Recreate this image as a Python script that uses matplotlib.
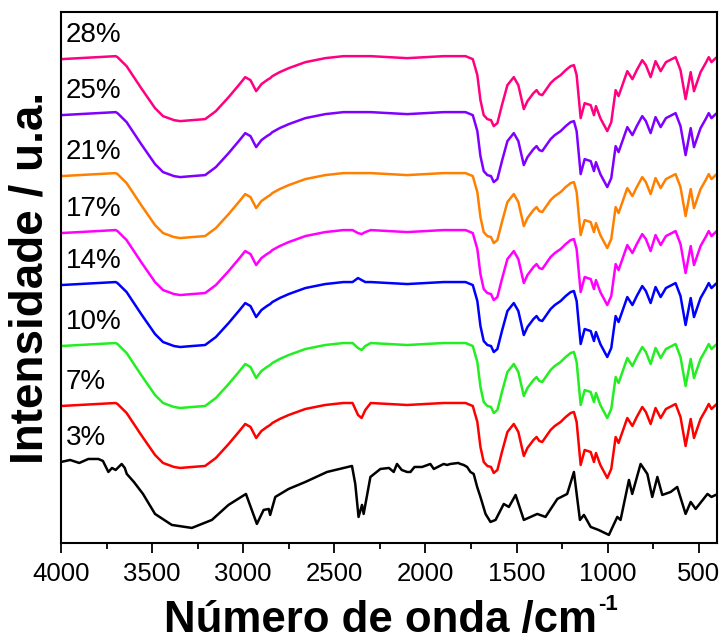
import numpy as np
import matplotlib.pyplot as plt

# wavenumber grid (cm-1) shared by the doped samples
wn = np.array([4000, 3900, 3800, 3700, 3690, 3640, 3560, 3484, 3440, 3380, 3346, 3280,
               3209, 3150, 3080, 3020, 2989, 2960, 2929, 2900, 2870, 2852, 2840, 2800,
               2750, 2659, 2550, 2450, 2400, 2370, 2350, 2330, 2300, 2200, 2100, 2000,
               1900, 1780, 1740, 1715, 1698, 1680, 1660, 1640, 1625, 1605, 1580, 1550,
               1515, 1490, 1460, 1440, 1407, 1390, 1375, 1359, 1313, 1290, 1258, 1230,
               1203, 1185, 1170, 1148, 1126, 1110, 1093, 1075, 1064, 1040, 1002, 980,
               956, 940, 892, 864, 840, 810, 790, 764, 737, 709, 680, 627, 600, 572,
               544, 526, 490, 462, 445, 430, 407])
# relative intensity (plateau at 4000 = 0)
shape_rel = np.array([0.0, 0.1, 0.2, 0.3, 0.2, -0.7, -2.9, -4.9, -5.7, -6.1, -6.2, -6.1,
                      -6.0, -5.2, -3.8, -2.5, -1.8, -2.1, -3.2, -2.5, -2.1, -1.9, -1.7, -1.3,
                      -0.9, -0.3, 0.1, 0.3, 0.3, 0.3, 0.3, 0.3, 0.3, 0.2, 0.1, 0.2,
                      0.3, 0.3, 0.0, -1.6, -4.1, -5.6, -6.0, -6.1, -6.7, -6.4, -4.6, -2.6,
                      -1.8, -2.6, -5.0, -4.2, -3.4, -3.1, -3.5, -3.6, -2.4, -2.0, -1.6, -1.1,
                      -0.7, -0.6, -1.6, -5.9, -4.4, -4.5, -4.6, -5.6, -4.7, -5.9, -7.2, -6.3,
                      -3.1, -3.7, -1.2, -2.0, -1.1, -0.1, -0.6, -1.8, -0.2, -1.2, -0.3, 0.2, -1.1, -4.0,
                      -1.3, -3.2, -1.3, -0.4, 0.2, -0.3, 0.1])

# 3% sample (black), read separately
wn_3 = np.array([4000, 3950, 3900, 3850, 3795, 3770, 3740, 3720, 3700, 3667, 3650, 3639,
                 3600, 3550, 3484, 3392, 3282, 3172, 3081, 2985, 2925, 2888, 2860, 2852,
                 2824, 2751, 2659, 2540, 2403, 2385, 2367, 2348, 2339, 2302, 2247, 2200,
                 2174, 2156, 2130, 2101, 2082, 2060, 2018, 1973, 1954, 1900, 1881, 1863,
                 1820, 1808, 1790, 1771, 1753, 1735, 1716, 1698, 1670, 1643, 1615, 1570,
                 1542, 1505, 1460, 1386, 1341, 1276, 1222, 1185, 1152, 1130, 1093, 1050,
                 993, 947, 929, 883, 865, 819, 782, 755, 727, 700, 654, 618, 572, 544,
                 517, 452, 430, 407])
rel_3 = np.array([0.0, 0.2, -0.1, 0.3, 0.3, 0.1, -1.0, -0.6, -0.8, -0.2, -0.6, -1.2,
                  -2.0, -3.2, -5.2, -6.3, -6.6, -5.8, -4.3, -3.2, -6.2, -4.8, -4.7, -5.3,
                  -3.5, -2.7, -2.0, -1.0, -0.4, -2.2, -5.5, -4.3, -5.2, -1.5, -0.7, -0.6,
                  -1.0, -0.2, -0.8, -1.0, -1.0, -0.5, -0.5, -0.2, -0.7, -0.2, -0.3, -0.2,
                  -0.1, -0.2, -0.3, -0.5, -1.0, -1.2, -2.5, -3.5, -5.2, -6.0, -5.8, -4.2,
                  -4.5, -3.3, -5.8, -5.2, -5.5, -3.7, -3.2, -1.0, -5.8, -5.3, -6.5, -6.8,
                  -7.3, -5.5, -5.8, -1.8, -3.2, -0.2, -1.2, -3.5, -1.5, -3.3, -3.0, -2.5, -5.2, -4.0,
                  -4.7, -3.2, -3.5, -3.3])

labels = ["28%", "25%", "21%", "17%", "14%", "10%", "7%", "3%"]
offsets = [48.4, 42.8, 36.7, 31.0, 25.8, 19.7, 13.7, 8.1]
colors = ["#FF0080", "#8000FF", "#FF8000", "#FF00FF", "#0000FF", "#22EE22", "#FF0000", "#000000"]

# small features around 2350 cm-1 that differ between samples
tweaks = {"17%": {2370: 0.0, 2350: -0.1, 2330: 0.1},
          "14%": {2370: 0.7, 2350: 0.5},
          "10%": {2370: -0.2, 2350: -0.4, 2330: 0.0},
          "7%": {2370: -0.9, 2350: -1.2, 2330: -0.4}}

plt.rcParams['font.family'] = ['Liberation Sans', 'DejaVu Sans']

fig = plt.figure(figsize=(7.22, 6.41), dpi=100)
ax = fig.add_axes([0.0845, 0.153, 0.9085, 0.828])

for lab, off, col in zip(labels, offsets, colors):
    if lab == "3%":
        x, y = wn_3, rel_3 + off
    else:
        vals = shape_rel.copy()
        for w, v in tweaks.get(lab, {}).items():
            vals[wn == w] = v
        x, y = wn, vals + off
    ax.plot(x, y, color=col, lw=1.8)
    ax.text(3975, off + 1.1, lab, fontsize=20, ha='left', va='bottom')

ax.set_xlim(4000, 400)
ax.set_ylim(0, 53.1)
ax.set_yticks([])
ax.set_xticks([4000, 3500, 3000, 2500, 2000, 1500, 1000, 500])
ax.set_xticks(np.arange(3750, 400, -500), minor=True)
ax.tick_params(axis='x', which='major', direction='out', length=7, width=1.3,
               labelsize=18.5, pad=7)
ax.tick_params(axis='x', which='minor', direction='out', length=4, width=1.3)
for s in ax.spines.values():
    s.set_linewidth(1.5)

xl = ax.set_xlabel("Número de onda /cm", fontsize=31.5, fontweight='bold', labelpad=10)
ax.xaxis.label.set_x(0.487)
ax.set_ylabel("Intensidade / u.a.", fontsize=33, fontweight='bold', labelpad=6)

# superscript -1 placed right after the x label
fig.canvas.draw()
bb = xl.get_window_extent()
fig.text((bb.x1 + 1) / fig.bbox.width, (bb.y0 + 31) / fig.bbox.height, "-1",
         fontsize=16, fontweight='bold', ha='left', va='baseline')

fig.savefig("out.png", dpi=100)
